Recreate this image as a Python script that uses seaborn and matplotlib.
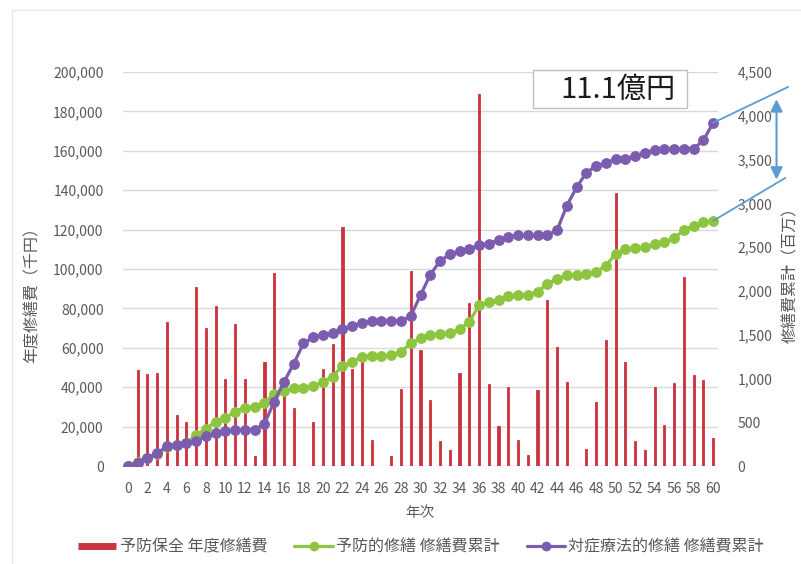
import matplotlib
matplotlib.use("Agg")
import matplotlib.pyplot as plt
from matplotlib.patches import Rectangle
from matplotlib.lines import Line2D
import seaborn as sns
import pandas as pd

# Data (years 0-60)
years = list(range(61))

# 予防保全 年度修繕費 (千円)
annual_cost = [
    0, 48500, 46500, 47000, 73000, 26000, 22500, 91000, 70000, 81000,
    44000, 72000, 44000, 5000, 53000, 98000, 37000, 29500, 0, 22500,
    49000, 62000, 121500, 49000, 54000, 13000, 0, 5000, 39000, 99000,
    59000, 33500, 12500, 8000, 47000, 82500, 189000, 41500, 20500, 40000,
    13000, 5500, 38500, 84500, 60500, 42500, 0, 8500, 32500, 64000,
    138500, 53000, 12500, 8000, 40000, 21000, 42000, 96000, 46000, 43500,
    14000,
]

# 予防的修繕 修繕費累計 (百万)
preventive_cum = [
    0, 48, 95, 142, 215, 241, 263, 355, 425, 506,
    550, 622, 666, 671, 724, 822, 859, 888, 888, 911,
    960, 1022, 1143, 1192, 1246, 1259, 1259, 1264, 1303, 1402,
    1461, 1495, 1507, 1515, 1562, 1645, 1834, 1875, 1896, 1936,
    1949, 1954, 1993, 2077, 2138, 2180, 2180, 2189, 2221, 2285,
    2424, 2477, 2489, 2497, 2537, 2558, 2600, 2696, 2742, 2786,
    2800,
]

# 対症療法的修繕 修繕費累計 (百万)
reactive_cum = [
    0, 38, 94, 143, 226, 245, 264, 282, 339, 377,
    395, 407, 414, 414, 482, 734, 960, 1167, 1401, 1468,
    1499, 1514, 1563, 1600, 1638, 1657, 1657, 1657, 1657, 1713,
    1950, 2184, 2342, 2417, 2455, 2477, 2522, 2541, 2579, 2617,
    2636, 2636, 2636, 2636, 2692, 2974, 3181, 3351, 3426, 3464,
    3502, 3509, 3539, 3577, 3607, 3622, 3622, 3622, 3622, 3720,
    3920,
]

bar_label = "予防保全 年度修繕費"
green_label = "予防的修繕 修繕費累計"
purple_label = "対症療法的修繕 修繕費累計"
diff_text = "11.1億円"

red = "#CC3340"
green = "#8DC540"
purple = "#7B5CAE"
blue = "#5B9BD5"
grey = "#595959"

sns.set_theme(style="white")
plt.rcParams["font.family"] = ["Noto Sans CJK JP", "DejaVu Sans"]

df = pd.DataFrame({"year": years, "cost": annual_cost,
                   "prev": preventive_cum, "react": reactive_cum})

W, H = 801, 564
fig = plt.figure(figsize=(W / 100, H / 100), dpi=100)
left, right, top, bottom = 123, 718, 72, 466
ax = fig.add_axes([left / W, 1 - bottom / H, (right - left) / W, (bottom - top) / H])

# faint chart-area border
fig.add_artist(Rectangle((12 / W, -0.1), 1.2, 1 - 10 / H + 0.1, transform=fig.transFigure,
                         fill=False, edgecolor="#E6E6E6", linewidth=1))

# annual bars
sns.barplot(data=df, x="year", y="cost", native_scale=True, width=0.22,
            color=red, saturation=1, edgecolor=red, linewidth=0.6, ax=ax, zorder=2)
ax.set_xlim(-0.5, 60.5)
ax.set_ylim(0, 200000)
ax.set_yticks(range(0, 200001, 20000))
ax.set_yticklabels([f"{v:,}" for v in range(0, 200001, 20000)])
ax.set_xticks(range(0, 61, 2))
ax.set_xticklabels([str(v) for v in range(0, 61, 2)])
ax.grid(axis="y", color="#D9D9D9", linewidth=1)
ax.set_axisbelow(True)
ax.set_xlabel("")
ax.set_ylabel("")
for s in ax.spines.values():
    s.set_visible(False)
ax.tick_params(axis="both", length=0, colors=grey, labelsize=10)
ax.tick_params(axis="x", pad=11.5)
ax.tick_params(axis="y", pad=14)

# cumulative lines on the secondary axis
ax2 = ax.twinx()
sns.lineplot(data=df, x="year", y="prev", ax=ax2, color=green, linewidth=2.3,
             marker="o", markersize=7, markeredgecolor=green, zorder=3)
sns.lineplot(data=df, x="year", y="react", ax=ax2, color=purple, linewidth=2.3,
             marker="o", markersize=7, markeredgecolor=purple, zorder=4)
ax2.set_ylim(0, 4500)
ax2.set_yticks(range(0, 4501, 500))
ax2.set_yticklabels([f"{v:,}" for v in range(0, 4501, 500)])
ax2.set_xlim(-0.5, 60.5)
ax2.set_xlabel("")
ax2.set_ylabel("")
for s in ax2.spines.values():
    s.set_visible(False)
ax2.tick_params(axis="y", length=0, colors=grey, labelsize=10, pad=14)
ax2.grid(False)

# axis titles
fig.text(420 / W, 1 - 513 / H, "年次", ha="center", va="center", fontsize=10.5, color=grey)
fig.text(32 / W, 1 - 291 / H, "年度修繕費（千円）", ha="center", va="center",
         rotation=90, fontsize=11.5, color=grey)
fig.text(791 / W, 1 - 271 / H, "修繕費累計（百万）", ha="center", va="center",
         rotation=90, fontsize=11.5, color=grey)

# difference annotation
ax2.plot([years[-1], 67.7], [reactive_cum[-1], 4330], color=blue, lw=1.3, clip_on=False, zorder=5)
ax2.plot([years[-1], 67.4], [preventive_cum[-1], 3290], color=blue, lw=1.3, clip_on=False, zorder=5)
ax2.annotate("", xy=(66.5, 4220), xytext=(66.5, 3240), annotation_clip=False,
             arrowprops=dict(arrowstyle="<|-|>", color=blue, lw=1.5, mutation_scale=18))
fig.add_artist(Rectangle((533 / W, 1 - 108 / H), 154 / W, 38 / H, transform=fig.transFigure,
                         facecolor="white", edgecolor="#BFBFBF", linewidth=1))
fig.text(618 / W, 1 - 90 / H, diff_text, ha="center", va="center", fontsize=21, color="#1A1A1A")

# legend
handles = [
    Line2D([0], [0], color=red, lw=5, solid_capstyle="butt"),
    Line2D([0], [0], color=green, lw=2.3, marker="o", markersize=6),
    Line2D([0], [0], color=purple, lw=2.3, marker="o", markersize=6),
]
fig.legend(handles, [bar_label, green_label, purple_label], loc="center",
           bbox_to_anchor=(421 / W, 1 - 547 / H), ncol=3, frameon=False,
           fontsize=11.5, labelcolor=grey, handlelength=2.4, handletextpad=0.2,
           columnspacing=1.7)

fig.savefig("out.png", dpi=100)
